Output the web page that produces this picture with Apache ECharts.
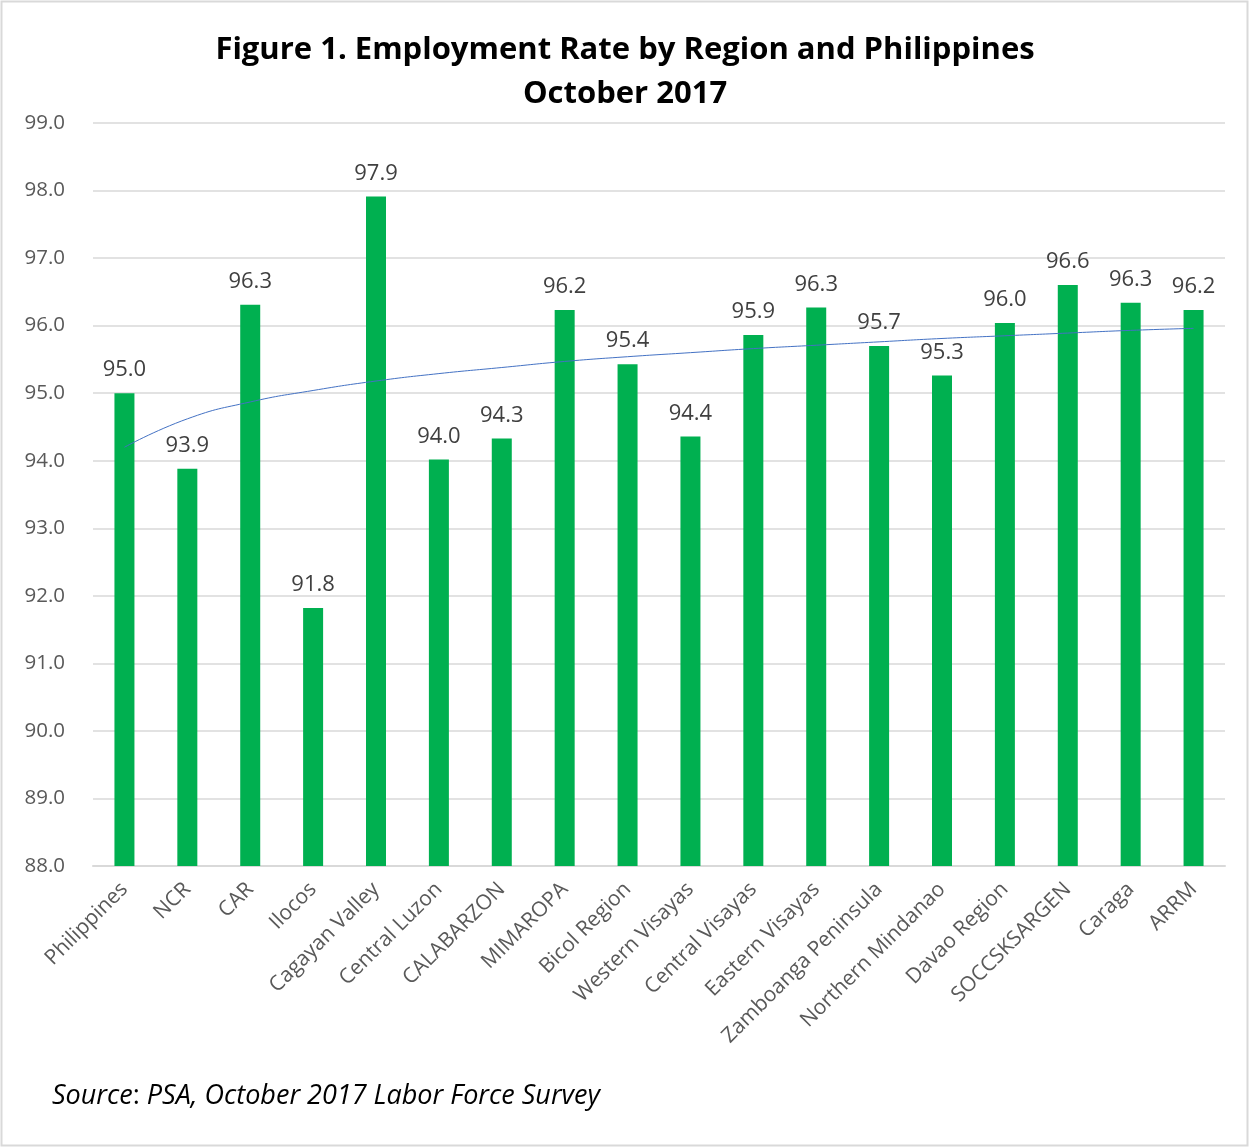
<!DOCTYPE html>
<html>
<head>
<meta charset="utf-8">
<script src="https://cdn.jsdelivr.net/npm/echarts@6/dist/echarts.min.js"></script>
<style>
  html, body { margin: 0; padding: 0; background: #fff; }
  #chart { width: 1250px; height: 1148px; }
</style>
</head>
<body>
<div id="chart"></div>
<script>
var regions = ['Philippines', 'NCR', 'CAR', 'Ilocos', 'Cagayan Valley', 'Central Luzon',
  'CALABARZON', 'MIMAROPA', 'Bicol Region', 'Western Visayas', 'Central Visayas',
  'Eastern Visayas', 'Zamboanga Peninsula', 'Northern Mindanao', 'Davao Region',
  'SOCCSKSARGEN', 'Caraga', 'ARRM'];

var employmentRate = [95.0, 93.88, 96.31, 91.82, 97.91, 94.02, 94.33, 96.23, 95.43, 94.36,
  95.86, 96.27, 95.7, 95.26, 96.04, 96.6, 96.34, 96.23];

// trendline at each category
var trendValues = [94.2, 94.62, 94.87, 95.04, 95.18, 95.29, 95.38, 95.47, 95.54, 95.6,
  95.66, 95.71, 95.76, 95.81, 95.85, 95.89, 95.93, 95.96];

var yTicks = { min: 88, max: 99, step: 1 };

var font = '"Open Sans", Lato, sans-serif';

var chart = echarts.init(document.getElementById('chart'), null, { renderer: 'canvas' });

var option = {
  backgroundColor: '#fff',
  animation: false,
  title: {
    text: 'Figure 1. Employment Rate by Region and Philippines\nOctober 2017',
    left: 'center',
    top: 23,
    textStyle: {
      fontFamily: font,
      fontWeight: 'bold',
      fontSize: 31,
      lineHeight: 44,
      color: '#000'
    }
  },
  graphic: [
    {
      type: 'rect',
      shape: { x: 1.5, y: 1.5, width: 1246, height: 1144 },
      style: { fill: 'none', stroke: '#d9d9d9', lineWidth: 2 },
      silent: true
    },
    {
      type: 'text',
      left: 52,
      top: 1083,
      style: {
        text: '{i|Source}{r|: }{i|PSA, October 2017 Labor Force Survey}',
        rich: {
          i: { fontFamily: font, fontStyle: 'italic', fontSize: 27, fill: '#000' },
          r: { fontFamily: font, fontSize: 27, fill: '#000' }
        }
      }
    }
  ],
  grid: { left: 93, right: 25, top: 123, bottom: 282, containLabel: false },
  xAxis: {
    type: 'category',
    data: regions,
    axisLine: { lineStyle: { color: '#d9d9d9', width: 2 } },
    axisTick: { show: false },
    axisLabel: {
      rotate: 45,
      interval: 0,
      margin: 20,
      fontFamily: font,
      fontSize: 21,
      color: '#595959'
    }
  },
  yAxis: {
    type: 'value',
    min: yTicks.min,
    max: yTicks.max,
    interval: yTicks.step,
    axisLine: { show: false },
    axisTick: { show: false },
    splitLine: { lineStyle: { color: '#d9d9d9', width: 1.5 } },
    axisLabel: {
      margin: 28,
      fontFamily: font,
      fontSize: 20.5,
      color: '#595959',
      formatter: function (v) { return v.toFixed(1); }
    }
  },
  series: [
    {
      name: 'Employment Rate',
      type: 'bar',
      data: employmentRate,
      barWidth: 20,
      itemStyle: { color: '#00b050' },
      label: {
        show: true,
        position: 'top',
        distance: 12,
        fontFamily: font,
        fontSize: 22,
        color: '#404040',
        formatter: function (p) { return p.value.toFixed(1); }
      }
    },
    {
      name: 'Trend',
      type: 'line',
      data: trendValues,
      smooth: true,
      symbol: 'none',
      lineStyle: { color: '#4472c4', width: 1 },
      z: 5
    }
  ]
};

chart.setOption(option);
</script>
</body>
</html>
